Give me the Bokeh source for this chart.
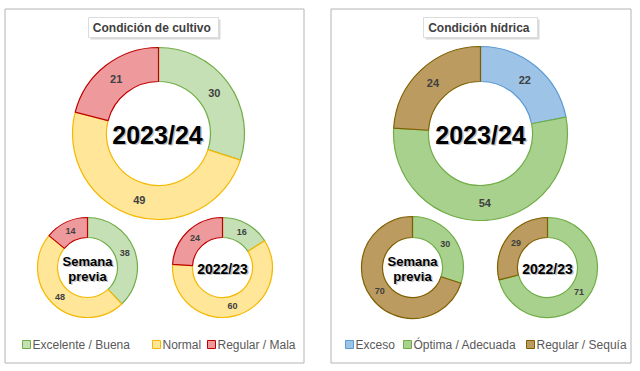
import math
from bokeh.plotting import figure
from bokeh.models import Range1d, ColumnDataSource
from bokeh.core.properties import value
from bokeh.embed import file_html
from bokeh.resources import INLINE

# ---------------- data ----------------
cultivo_title = "Condición  de cultivo"
cultivo_labels = ["Excelente / Buena", "Normal", "Regular / Mala"]
cultivo_actual = [30, 49, 21]
cultivo_previa = [38, 48, 14]
cultivo_anterior = [16, 60, 24]

hidrica_title = "Condición  hídrica"
hidrica_labels = ["Exceso", "Óptima / Adecuada", "Regular / Sequía"]
hidrica_actual = [22, 54, 24]
hidrica_previa = [0, 30, 70]
hidrica_anterior = [0, 71, 29]

center_actual = "2023/24"
center_previa = ["Semana", "previa"]
center_anterior = "2022/23"

# ---------------- styles ----------------
cultivo_fill = ["#c5e0b4", "#ffe699", "#ee9a9c"]
cultivo_line = ["#70ad47", "#f5b800", "#c00000"]
hidrica_fill = ["#9dc3e6", "#a9d18e", "#bb9b5f"]
hidrica_line = ["#5b9bd5", "#70ad47", "#7f6000"]

W, H = 640, 371
FONT = "Liberation Sans"

p = figure(width=W, height=H, output_backend="svg", toolbar_location=None,
           x_range=Range1d(0, W), y_range=Range1d(0, H),
           x_axis_type=None, y_axis_type=None, min_border=0,
           min_border_left=0, min_border_right=0, min_border_top=0, min_border_bottom=0)
p.outline_line_color = None
p.grid.visible = False
p.background_fill_color = "white"
p.border_fill_color = "white"


def Y(py):
    return H - py


# panel borders
p.quad(left=[4.5, 330.5], right=[303.5, 630.5], bottom=[Y(362.5), Y(362.5)], top=[Y(8.5), Y(8.5)],
       fill_color=None, line_color="#b4b4b4", line_width=1)


def donut(cx, cy, vals, fills, lines, r_out, r_in, fsize):
    total = float(sum(vals))
    cum = 0.0
    starts, ends, fc, lc, lx, ly, lt = [], [], [], [], [], [], []
    for v, f, l in zip(vals, fills, lines):
        s = cum / total
        cum += v
        e = cum / total
        if v <= 0:
            continue
        starts.append(math.pi / 2 - 2 * math.pi * e)
        ends.append(math.pi / 2 - 2 * math.pi * s)
        fc.append(f)
        lc.append(l)
        mid = math.pi / 2 - 2 * math.pi * (s + e) / 2
        rm = (r_out + r_in) / 2
        lx.append(cx + rm * math.cos(mid))
        ly.append(Y(cy) + rm * math.sin(mid))
        lt.append(str(v))
    src = ColumnDataSource(dict(x=[cx] * len(starts), y=[Y(cy)] * len(starts),
                                s=starts, e=ends, fc=fc, lc=lc))
    p.annular_wedge(x="x", y="y", inner_radius=r_in, outer_radius=r_out,
                    inner_radius_units="screen", outer_radius_units="screen",
                    start_angle="s", end_angle="e", direction="anticlock",
                    fill_color="fc", line_color="lc", line_width=1.2, source=src)
    p.text(x=lx, y=ly, text=lt, text_align="center", text_baseline="middle",
           text_font=value(FONT), text_font_style="bold", text_font_size=f"{fsize}px",
           text_color="#404040")


def center_text(cx, cy, lines, fsize, lh):
    n = len(lines)
    ys = [Y(cy) + (n - 1) * lh / 2 - i * lh for i in range(n)]
    xs = [cx] * n
    p.text(x=xs, y=ys, text=lines, text_align="center", text_baseline="middle",
           text_font=value(FONT), text_font_style="bold", text_font_size=f"{fsize}px",
           text_color="#9a9a9a", text_alpha=0.6, x_offset=1.5, y_offset=1.5)
    p.text(x=xs, y=ys, text=lines, text_align="center", text_baseline="middle",
           text_font=value(FONT), text_font_style="bold", text_font_size=f"{fsize}px",
           text_color="#000000")


# left panel
donut(158, 133, cultivo_actual, cultivo_fill, cultivo_line, 86, 52, 11)
donut(87, 267, cultivo_previa, cultivo_fill, cultivo_line, 50, 30, 9)
donut(222, 267, cultivo_anterior, cultivo_fill, cultivo_line, 50, 30, 9)
center_text(157, 134, [center_actual], 25, 0)
center_text(87, 268, center_previa, 13, 15)
center_text(222, 268, [center_anterior], 14, 0)

# right panel
donut(480, 133, hidrica_actual, hidrica_fill, hidrica_line, 87, 52, 11)
donut(412, 267, hidrica_previa, hidrica_fill, hidrica_line, 51, 30, 9)
donut(547, 267, hidrica_anterior, hidrica_fill, hidrica_line, 50, 30, 9)
center_text(480, 134, [center_actual], 25, 0)
center_text(412, 268, center_previa, 13, 15)
center_text(547, 268, [center_anterior], 14, 0)

# titles with boxes
for (l, r, cx, t) in [(88, 218, 153, cultivo_title), (423, 537, 480, hidrica_title)]:
    p.quad(left=[l + 2], right=[r + 2], bottom=[Y(39)], top=[Y(19)],
           fill_color="#d0d0d0", line_color=None, fill_alpha=0.8)
    p.quad(left=[l], right=[r], bottom=[Y(37)], top=[Y(17)],
           fill_color="white", line_color="#dcdcdc", line_width=1)
    p.text(x=[cx], y=[Y(27)], text=[t], text_align="center", text_baseline="middle",
           text_font=value(FONT), text_font_style="bold", text_font_size="12px",
           text_color="#404040")

# legends
leg_y = 344
for xs, labels, fills, lines in [([22, 152, 207], cultivo_labels, cultivo_fill, cultivo_line),
                                 ([345, 403, 526], hidrica_labels, hidrica_fill, hidrica_line)]:
    p.rect(x=[x + 4 for x in xs], y=[Y(leg_y)] * 3, width=8, height=8,
           width_units="screen", height_units="screen",
           fill_color=fills, line_color=lines, line_width=1)
    p.text(x=[x + 10 for x in xs], y=[Y(leg_y)] * 3, text=labels, text_align="left",
           text_baseline="middle", text_font=value(FONT), text_font_size="12px",
           text_color="#595959")

open("out.html", "w").write(file_html(p, INLINE))
